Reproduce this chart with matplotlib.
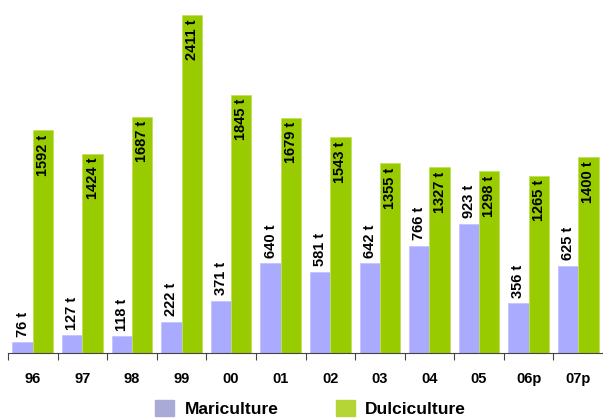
import numpy as np
import matplotlib.pyplot as plt
from matplotlib.patches import Patch

plt.rcParams['font.family'] = ['Liberation Sans', 'DejaVu Sans']

# Data
years = ['96', '97', '98', '99', '00', '01', '02', '03', '04', '05', '06p', '07p']
mariculture = [76, 127, 118, 222, 371, 640, 581, 642, 766, 923, 356, 625]
dulciculture = [1592, 1424, 1687, 2411, 1845, 1679, 1543, 1355, 1327, 1298, 1265, 1400]

mari_color = '#aaaaff'
dulci_color = '#99cc00'

fig = plt.figure(figsize=(6.03, 4.18), dpi=100)
ax = fig.add_axes([8 / 603, 65 / 418, 595 / 603, 350 / 418])

x = np.arange(len(years))
w = 0.41
ax.bar(x - w / 2, mariculture, w, color=mari_color, edgecolor='#c4c4ff', linewidth=0.6)
ax.bar(x + w / 2, dulciculture, w, color=dulci_color, edgecolor='#c2e060', linewidth=0.6)

for i in range(len(years)):
    ax.text(x[i] - w / 2, mariculture[i] + 40, f'{mariculture[i]} t', rotation=90,
            ha='center', va='bottom', fontsize=10.5, fontweight='bold')
    ax.text(x[i] + w / 2, dulciculture[i] - 30, f'{dulciculture[i]} t', rotation=90,
            ha='center', va='top', fontsize=10.5, fontweight='bold')

ax.set_xlim(-0.5, len(years) - 0.5)
ax.set_ylim(0, 2500)
for s in ['top', 'right', 'left']:
    ax.spines[s].set_visible(False)
ax.spines['bottom'].set_color('#444444')
ax.set_yticks([])

ax.set_xticks(x - 0.5, minor=False)
ax.set_xticklabels([])
ax.set_xticks(x, minor=True)
ax.set_xticklabels(years, minor=True, fontsize=10.5, fontweight='bold')
ax.tick_params(axis='x', which='major', length=5, color='#444444', direction='out')
ax.tick_params(axis='x', which='minor', length=0, pad=14)

handles = [Patch(color='#aaaad6', label='Mariculture'),
           Patch(color='#b5d436', label='Dulciculture')]
fig.legend(handles=handles, loc='lower center', bbox_to_anchor=(0.515, -0.035), ncol=2,
           frameon=False, handlelength=1.1, handleheight=1.1, handletextpad=0.6,
           columnspacing=3.3, prop={'weight': 'bold', 'size': 12.5})

fig.savefig('out.png', dpi=100)
